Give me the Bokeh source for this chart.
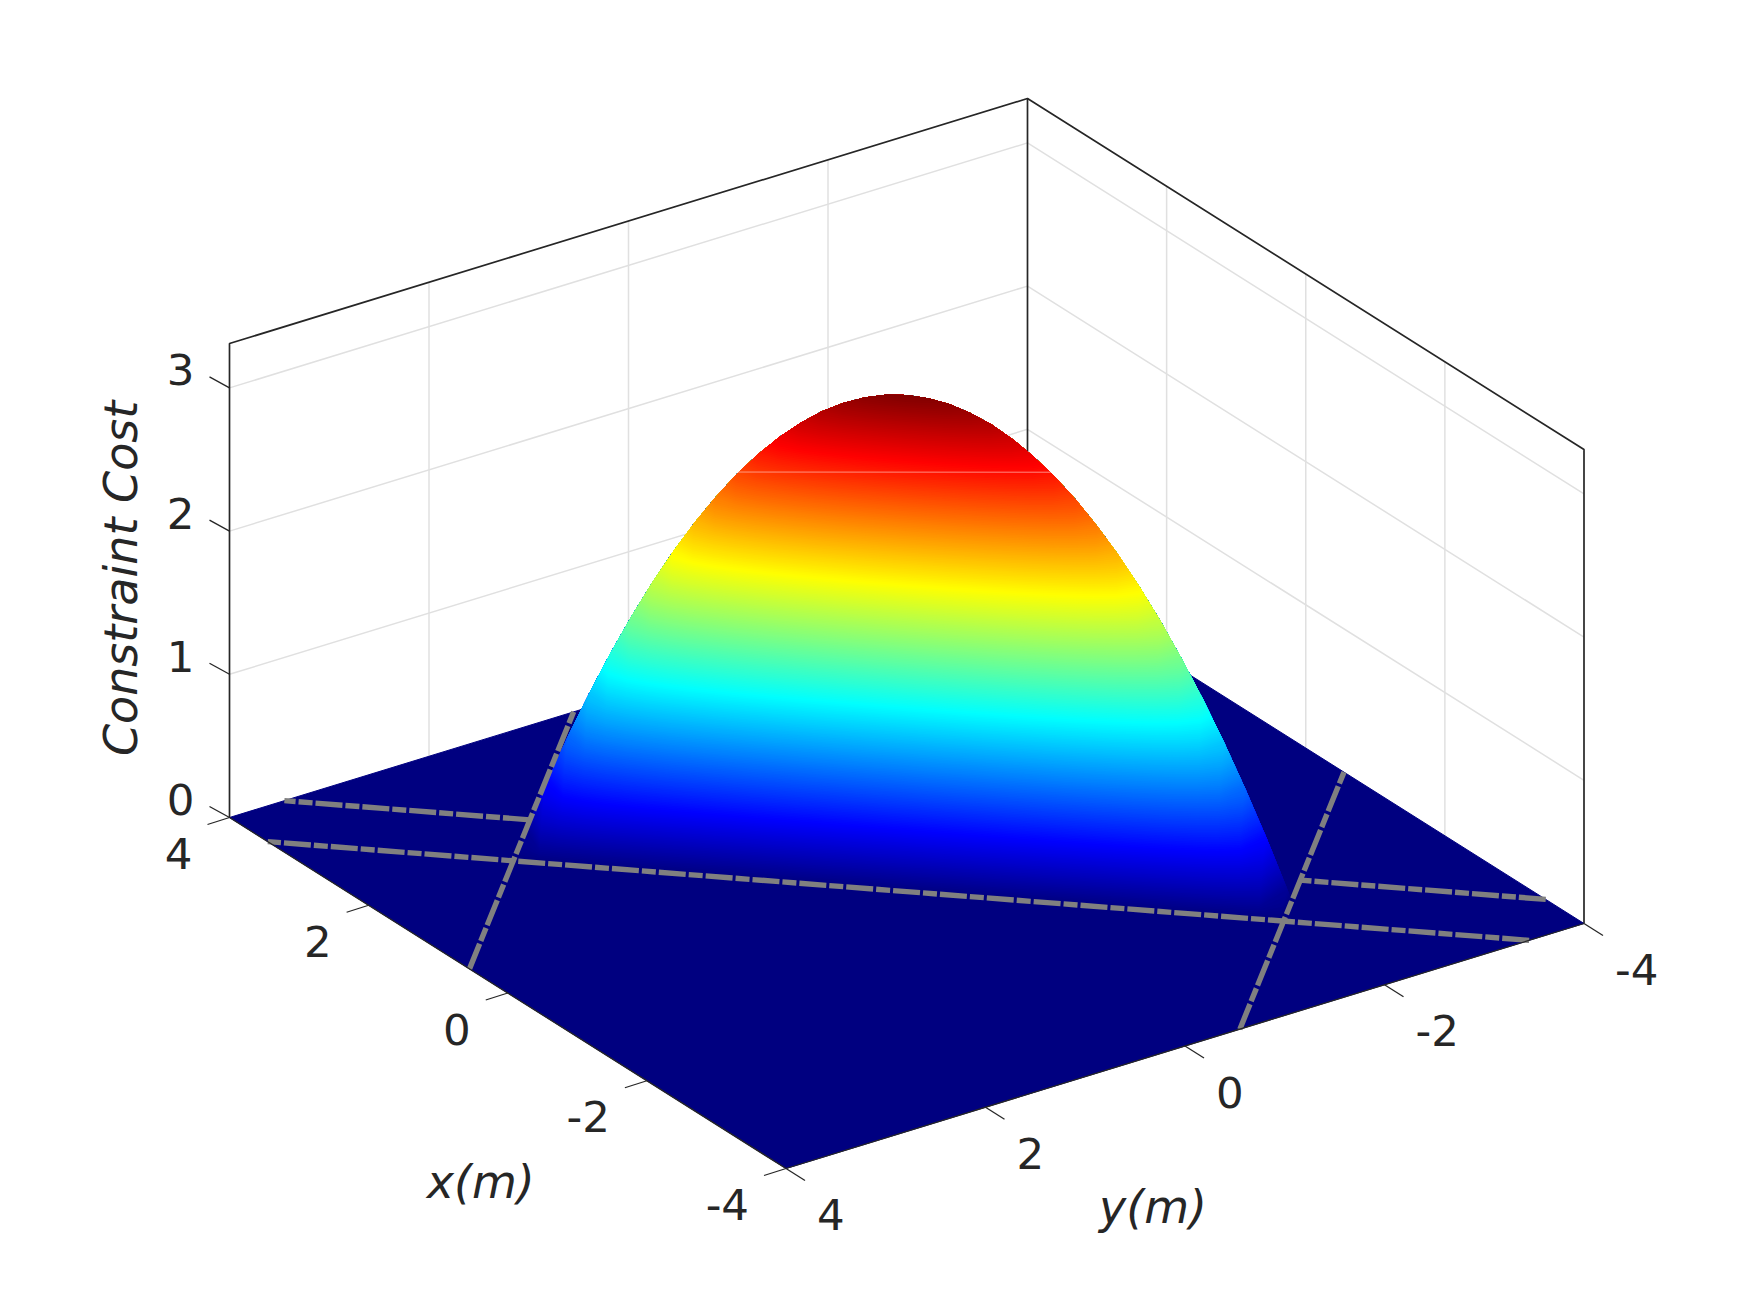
import numpy as np
from bokeh.plotting import figure
from bokeh.models import Range1d
from bokeh.core.properties import value
from bokeh.embed import file_html
from bokeh.resources import INLINE

# ---- chart values ----
x_ticks = [4, 2, 0, -2, -4]
y_ticks = [4, 2, 0, -2, -4]
z_ticks = [0, 1, 2, 3]
x_tick_labels = ["4", "2", "0", "-2", "-4"]
y_tick_labels = ["4", "2", "0", "-2", "-4"]
z_tick_labels = ["0", "1", "2", "3"]
x_grid = [2, 0, -2]
y_grid = [2, 0, -2]
z_grid = [1, 2, 3]
z_top = 3.31
x_label = "x(m)"
y_label = "y(m)"
z_label = "Constraint Cost"

# height of the ridge along s = x + y
ridge_s = [-4.55, -4.5, -4.25, -4.0, -3.75, -3.5, -3.25, -3.0, -2.75, -2.5, -2.25, -2.0, -1.75, -1.5, -1.25, -1.0,
           -0.75, -0.5, -0.25, 0.0, 0.25, 0.5, 0.75, 1.0, 1.25, 1.5, 1.75, 2.0, 2.25, 2.5, 2.75, 3.0, 3.25, 3.5,
           3.75, 4.0, 4.25, 4.5, 4.55]
ridge_z = [0.0, 0.072, 0.423, 0.754, 1.065, 1.356, 1.626, 1.877, 2.107, 2.318, 2.508, 2.679, 2.829, 2.959, 3.069,
           3.160, 3.230, 3.280, 3.310, 3.320, 3.310, 3.280, 3.230, 3.160, 3.069, 2.959, 2.829, 2.679, 2.508, 2.318,
           2.107, 1.877, 1.626, 1.356, 1.065, 0.754, 0.423, 0.072, 0.0]
# share of the ridge height across w = x - y
across_w = [-0.55, -0.495, -0.44, -0.385, -0.33, -0.275, -0.22, -0.165, -0.11, -0.055, 0.0]
across_f = [0.0, 0.19, 0.36, 0.51, 0.64, 0.75, 0.84, 0.91, 0.96, 0.99, 1.0]
# dashed lane limits
lane_w = [0.55, -0.55]
lane_s = [4.55, -4.55]
# thin seam visible on the surface
seam_s = [2.0, -1.7]
seam_z = [2.69, 2.86]
# jet colour map
jet_pos = [0.0, 0.125, 0.375, 0.625, 0.875, 1.0]
jet_r = [0, 0, 0, 255, 255, 128]
jet_g = [0, 0, 255, 255, 0, 0]
jet_b = [128, 255, 255, 0, 0, 0]

# ---- view of the 3D box, picture pixels ----
LEFT = np.array([229.0, 817.0])
FRONT = np.array([785.5, 1168.0])
BACK = np.array([1027.0, 572.0])
ZPX = 143.2
INK = "#262626"
GRID = "#e0e0e0"
GRAY = "#808080"
NAVY = "#000080"


def project(x, y, z=0.0):
    x, y, z = np.asarray(x, float), np.asarray(y, float), np.asarray(z, float)
    a = (4 - x) / 8
    b = (4 - y) / 8
    return (LEFT[0] + a * (FRONT[0] - LEFT[0]) + b * (BACK[0] - LEFT[0]),
            LEFT[1] + a * (FRONT[1] - LEFT[1]) + b * (BACK[1] - LEFT[1]) - z * ZPX)


def project_sw(s, w, z=0.0):
    s, w = np.asarray(s, float), np.asarray(w, float)
    return project((s + w) / 2, (s - w) / 2, z)


def jet(t):
    return "#%02x%02x%02x" % (round(np.interp(t, jet_pos, jet_r)),
                              round(np.interp(t, jet_pos, jet_g)),
                              round(np.interp(t, jet_pos, jet_b)))


p = figure(width=1734, height=1297, x_range=Range1d(0, 1734), y_range=Range1d(1297, 0),
           output_backend="svg", toolbar_location=None, min_border=0)
p.axis.visible = False
p.grid.visible = False
p.outline_line_color = None
p.background_fill_color = "white"
p.border_fill_color = "white"


def seg(pts, color, width=1.0, dash="solid", alpha=1.0):
    xs = [q[0] for q in pts]
    ys = [q[1] for q in pts]
    p.line(xs, ys, line_color=color, line_width=width, line_dash=dash, line_alpha=alpha, line_cap="butt")


# back walls
for v in y_grid:
    seg([project(4, v, 0), project(4, v, z_top)], GRID, 1.5)
for v in x_grid:
    seg([project(v, -4, 0), project(v, -4, z_top)], GRID, 1.5)
for v in z_grid:
    seg([project(4, 4, v), project(4, -4, v), project(-4, -4, v)], GRID, 1.5)

# box
seg([project(4, 4, 0), project(4, 4, z_top), project(4, -4, z_top), project(-4, -4, z_top), project(-4, -4, 0)], INK, 1.7)
seg([project(4, -4, 0), project(4, -4, z_top)], INK, 1.7)

# floor
fx, fy = project([4, -4, -4, 4], [4, 4, -4, -4])
p.patch(list(fx), list(fy), fill_color=NAVY, line_color=NAVY, line_width=1)

# dome, painted from low level to high level
rs = np.array(ridge_s)
rz = np.array(ridge_z)
mid = len(rs) // 2
zmax = rz.max()
levels = np.linspace(0, zmax, 300, endpoint=False)
poly_x, poly_y, poly_c = [], [], []
for lv in levels:
    s_lo = np.interp(lv, rz[:mid + 1], rs[:mid + 1])
    s_hi = np.interp(lv, rz[mid:][::-1], rs[mid:][::-1])
    inner = rs[(rs > s_lo) & (rs < s_hi)]
    ss = np.concatenate([[s_lo], inner, [s_hi]])
    hh = np.interp(ss, rs, rz)
    ratio = np.where(hh > 0, lv / np.maximum(hh, 1e-9), 0.0)
    ww = np.interp(ratio, across_f, across_w)
    x1, y1 = project_sw(ss, ww, lv)
    x2, y2 = project_sw(ss[::-1], 0.0 * ss, hh[::-1])
    poly_x.append(list(np.concatenate([x1, x2])))
    poly_y.append(list(np.concatenate([y1, y2])))
    poly_c.append(jet(lv / zmax))
p.patches(poly_x, poly_y, fill_color=poly_c, line_color=None)

# seam
sx, sy = project_sw(seam_s, [0, 0], seam_z)
p.line(list(sx), list(sy), line_color="#ffd0c8", line_width=0.8, line_alpha=0.8)

# lanes
far = 8 - lane_w[0]
for a, b, w in [(lane_s[0], far, lane_w[0]), (-far, lane_s[1], lane_w[0]), (-far, far, lane_w[1])]:
    seg([project_sw(a, w), project_sw(b, w)], GRAY, 5.4, "27 3 14 3")
reach = 8 - lane_s[0]
for s in lane_s:
    seg([project_sw(s, -reach), project_sw(s, reach)], GRAY, 5.4, "27 3 14 3")

# floor edges
seg([project(4, 4), project(-4, 4), project(-4, -4)], INK, 1.3)

# ticks
for v in x_ticks:
    bx, by = project(v, 4)
    seg([(bx, by), (bx - 22, by + 7)], INK, 1.3)
for v in y_ticks:
    bx, by = project(-4, v)
    seg([(bx, by), (bx + 19, by + 12)], INK, 1.3)
for v in z_ticks:
    bx, by = project(4, 4, v)
    seg([(bx, by), (bx - 20, by - 11)], INK, 1.3)


def label(xs, ys, texts, align, angle=0.0, size="43.5px", style="normal", baseline="middle"):
    p.text(list(xs), list(ys), text=list(texts), text_font=value("DejaVu Sans"), text_font_size=value(size),
           text_font_style=style, text_color=INK, text_align=align, text_baseline=baseline, angle=angle)


bx, by = project(x_ticks, [4] * len(x_ticks))
label(bx - 37, by + 36, x_tick_labels, "right")
bx, by = project([-4] * len(y_ticks), y_ticks)
label(bx + 31, by + 46, y_tick_labels, "left")
bx, by = project([4] * len(z_ticks), [4] * len(z_ticks), z_ticks)
label(bx - 35, by - 18, z_tick_labels, "right")

lx, ly = project(0.0, 4.0)
label([lx - 27], [ly + 189], [x_label], "center", style="italic", size="46px")
lx, ly = project(-4.0, 0.0)
label([lx - 32], [ly + 161], [y_label], "center", style="italic", size="46px")
lx, ly = project(4.0, 4.0, 1.67)
label([lx - 109], [ly], [z_label], "center", angle=np.pi / 2, style="italic", size="46px")

open("out.html", "w").write(file_html(p, INLINE))
